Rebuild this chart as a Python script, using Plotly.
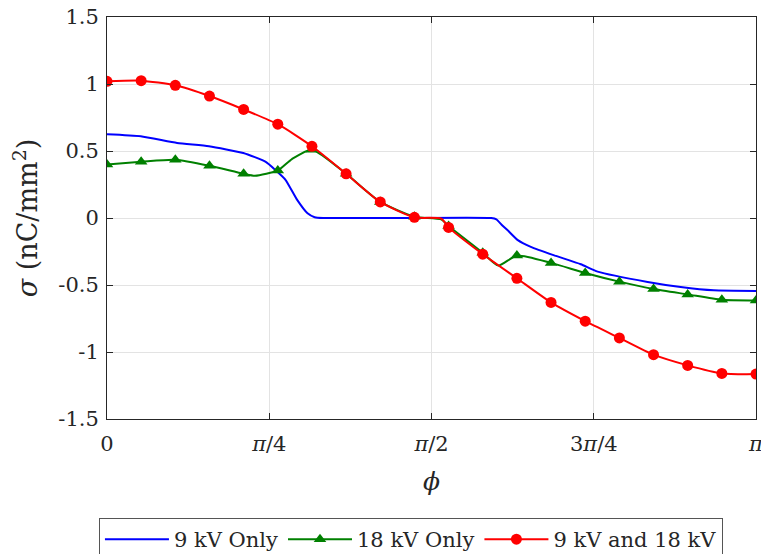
import numpy as np
import plotly.graph_objects as go

# phi expressed as fraction of pi
marker_frac = np.arange(20) / 19.0

red_markers = [1.02, 1.025, 0.99, 0.91, 0.81, 0.70, 0.535, 0.33, 0.12, 0.005,
               -0.07, -0.27, -0.45, -0.63, -0.77, -0.895, -1.02, -1.10, -1.16, -1.165]
green_markers = [0.40, 0.42, 0.435, 0.39, 0.33, 0.355, 0.51, 0.33, 0.12, 0.01,
                 -0.06, -0.26, -0.28, -0.335, -0.41, -0.475, -0.53, -0.57, -0.61, -0.615]

# extra (non-marker) points on the curves
red_extra_frac = [0.515]
red_extra_sigma = [-0.005]
green_extra_frac = [0.228, 0.285, 0.515, 0.603]
green_extra_sigma = [0.315, 0.44, -0.01, -0.355]

blue_frac = [0.0, 0.052, 0.108, 0.157, 0.21, 0.244, 0.259, 0.275, 0.293, 0.309, 0.320, 0.333,
             0.45, 0.592, 0.600, 0.608, 0.617, 0.633, 0.653, 0.688, 0.730, 0.756, 0.833, 0.884, 0.935, 1.0]
blue_sigma = [0.625, 0.61, 0.56, 0.535, 0.485, 0.42, 0.36, 0.285, 0.135, 0.035, 0.006, 0.0,
              0.0, 0.0, -0.01, -0.05, -0.09, -0.165, -0.215, -0.277, -0.345, -0.40, -0.477, -0.515, -0.54, -0.545]

xtick_vals = [0, 0.25, 0.5, 0.75, 1.0]
xtick_text = ["0", "<i>π</i>/4", "<i>π</i>/2", "3<i>π</i>/4", "<i>π</i>"]
ytick_vals = [-1.5, -1, -0.5, 0, 0.5, 1, 1.5]
ytick_text = ["-1.5", "-1", "-0.5", "0", "0.5", "1", "1.5"]


def merged(frac_a, val_a, frac_b, val_b):
    pts = sorted(zip(list(frac_a) + list(frac_b), list(val_a) + list(val_b)))
    return [p[0] for p in pts], [p[1] for p in pts]


FONT = "DejaVu Serif"
TXT = "#262626"
BLUE, GREEN, RED = "#0000ff", "#008000", "#ff0000"

fig = go.Figure()

fig.add_trace(go.Scatter(x=blue_frac, y=blue_sigma, mode="lines", name="9 kV Only",
                         line=dict(color=BLUE, width=2, shape="spline", smoothing=0.5)))

gx, gy = merged(marker_frac, green_markers, green_extra_frac, green_extra_sigma)
fig.add_trace(go.Scatter(x=gx, y=gy, mode="lines", showlegend=False, legendgroup="g",
                         line=dict(color=GREEN, width=2, shape="spline", smoothing=0.6)))
fig.add_trace(go.Scatter(x=marker_frac, y=green_markers, mode="markers", showlegend=False,
                         legendgroup="g",
                         marker=dict(symbol="triangle-up", size=11, color=GREEN)))

rx, ry = merged(marker_frac, red_markers, red_extra_frac, red_extra_sigma)
fig.add_trace(go.Scatter(x=rx, y=ry, mode="lines", showlegend=False, legendgroup="r",
                         line=dict(color=RED, width=2, shape="spline", smoothing=0.6)))
fig.add_trace(go.Scatter(x=marker_frac, y=red_markers, mode="markers", showlegend=False,
                         legendgroup="r",
                         marker=dict(symbol="circle", size=11, color=RED)))

# legend entries
fig.add_trace(go.Scatter(x=[None], y=[None], mode="lines+markers", name="18 kV Only", legendgroup="g",
                         line=dict(color=GREEN, width=2),
                         marker=dict(symbol="triangle-up", size=11, color=GREEN)))
fig.add_trace(go.Scatter(x=[None], y=[None], mode="lines+markers", name="9 kV and 18 kV", legendgroup="r",
                         line=dict(color=RED, width=2),
                         marker=dict(symbol="circle", size=11, color=RED)))

axis_common = dict(showline=True, linecolor=TXT, linewidth=1, mirror="ticks",
                   ticks="inside", ticklen=6, tickcolor=TXT, automargin=False,
                   showgrid=True, gridcolor="#e3e3e3", gridwidth=1, zeroline=False,
                   tickfont=dict(family=FONT, size=21, color=TXT))

fig.update_layout(
    width=761, height=554,
    margin=dict(l=107, r=5, t=17, b=135, autoexpand=False),
    paper_bgcolor="white", plot_bgcolor="white",
    font=dict(family=FONT, color=TXT),
    xaxis=dict(range=[0, 1], tickvals=xtick_vals, ticktext=xtick_text, ticklabelstandoff=6,
               ticklabeloverflow="allow",
               title=dict(text="<i>ϕ</i>", font=dict(family=FONT, size=25, color=TXT), standoff=17),
               **axis_common),
    yaxis=dict(range=[-1.5, 1.5], tickvals=ytick_vals, ticktext=ytick_text, ticklabelstandoff=3,
               title=dict(text="<i>σ</i> (nC/mm<sup>2</sup>)", font=dict(family=FONT, size=27, color=TXT),
                          standoff=12),
               **axis_common),
    legend=dict(orientation="h", xref="container", x=0.54, xanchor="center",
                yref="container", y=0.065, yanchor="top",
                bordercolor="#555555", borderwidth=1, bgcolor="white",
                font=dict(family=FONT, size=21, color=TXT),
                itemwidth=64, traceorder="normal"),
)

fig.write_html("out.html", config={"displayModeBar": False},
               post_script="document.body.style.margin='0px';")
